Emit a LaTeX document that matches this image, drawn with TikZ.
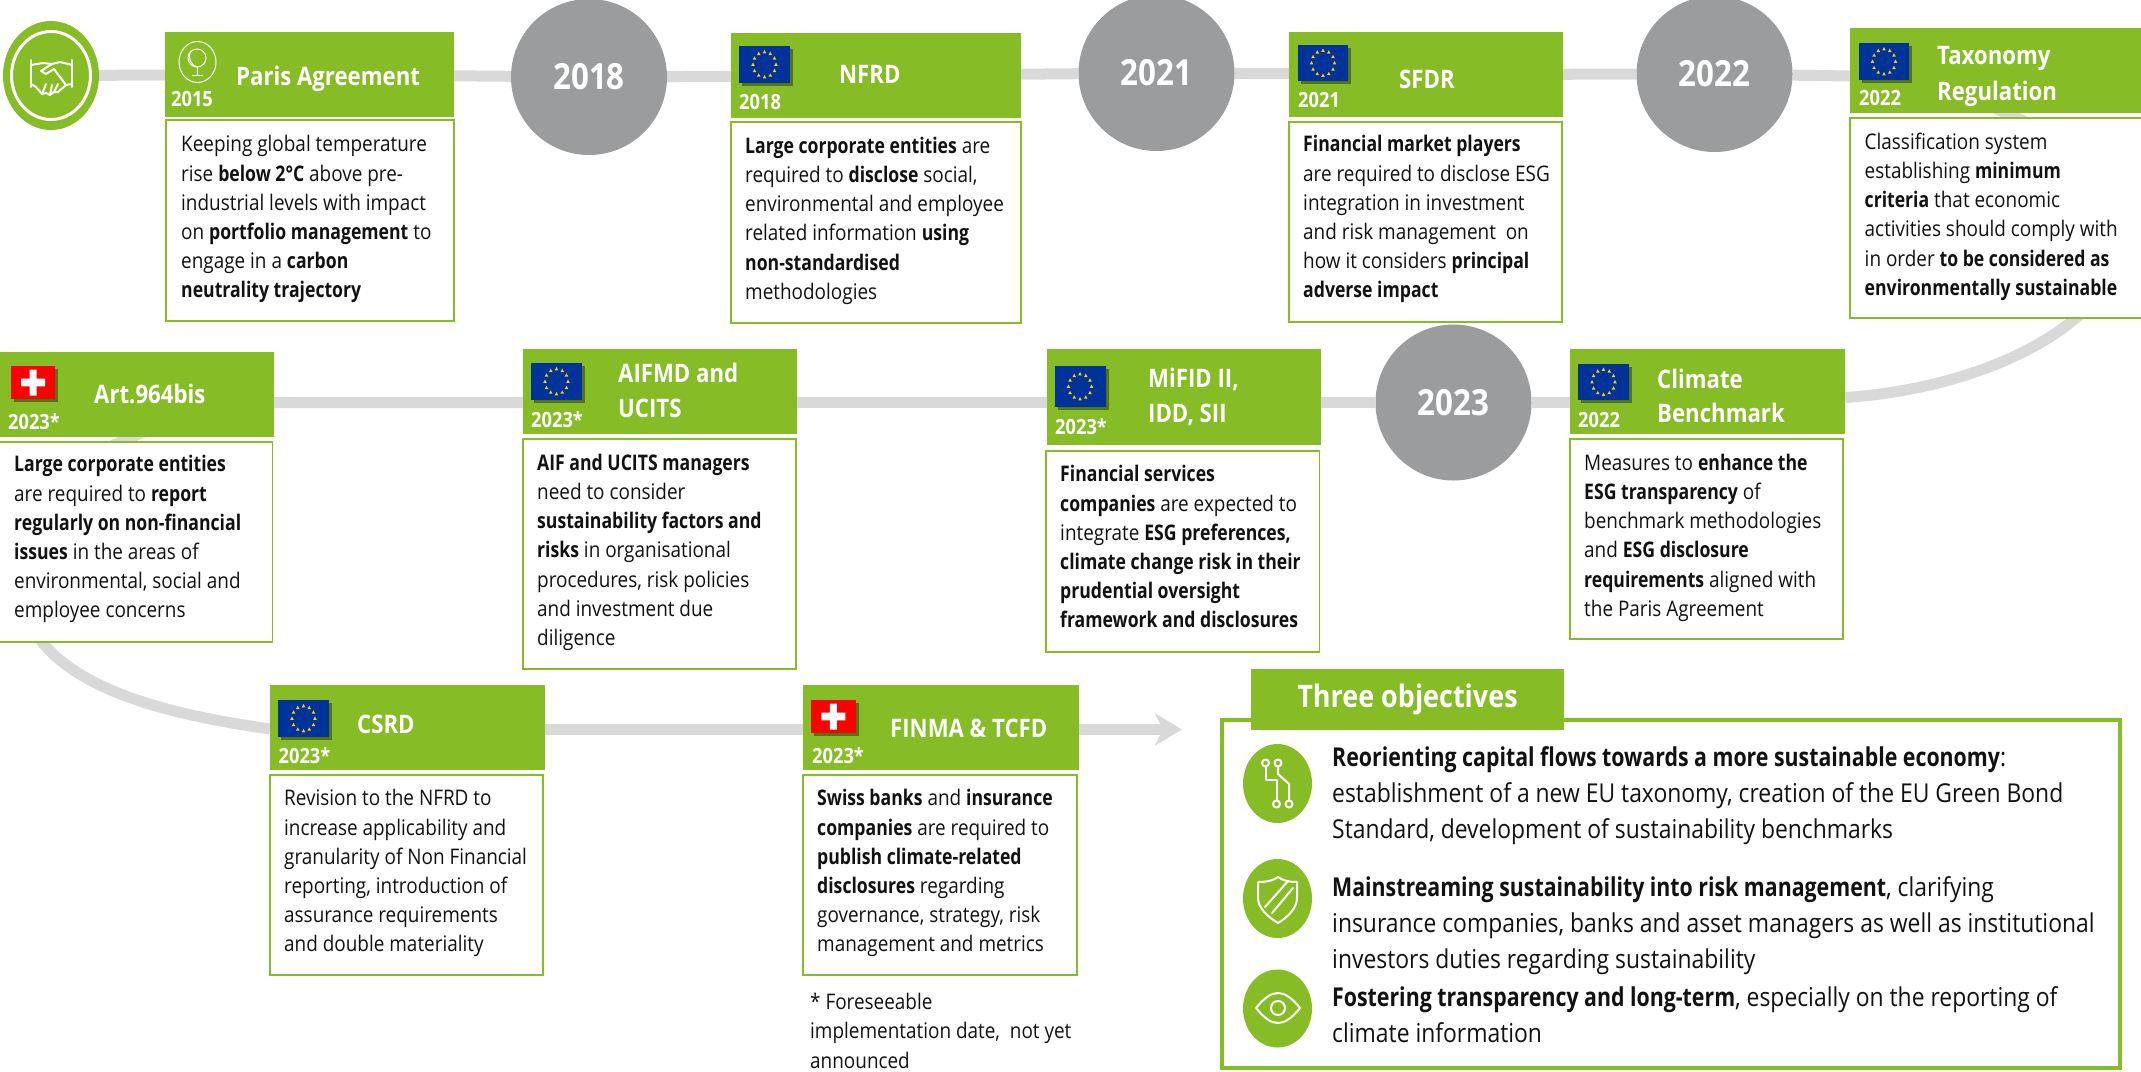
\documentclass[tikz,border=0pt]{standalone}
\usepackage{fontspec}
\setmainfont{Open Sans}[FakeStretch=0.88,BoldFeatures={FakeStretch=0.82}]
\newfontfamily\digitsf{Open Sans}[FakeStretch=0.87]
\usetikzlibrary{backgrounds,arrows.meta}
\definecolor{dgreen}{HTML}{86BC25}
\definecolor{lgrey}{HTML}{D9D9D9}
\definecolor{cgrey}{HTML}{9B9C9E}
\definecolor{eublue}{HTML}{003399}
\definecolor{eustar}{HTML}{FFCC00}
\definecolor{txt}{HTML}{111111}
\tikzset{
  x=1pt,y=-1pt,
  headbox/.style={fill=dgreen,inner sep=0pt,outer sep=0pt,rectangle},
  bodybox/.style={draw=dgreen,line width=1.6pt,fill=white,inner sep=0pt,outer sep=0pt,rectangle},
  bodytxt/.style={anchor=north west,inner sep=0pt,align=left,text=txt,font=\fontsize{21.5}{29.2}\selectfont},
  yeartxt/.style={anchor=base west,inner sep=0pt,text=white,font=\digitsf\bfseries\fontsize{21}{25}\selectfont},
  titletxt/.style={anchor=base west,inner sep=0pt,text=white,font=\digitsf\bfseries\fontsize{25.5}{30}\selectfont},
  yearcirc/.style={circle,fill=cgrey,inner sep=0pt,minimum size=156pt,text=white,font=\digitsf\bfseries\fontsize{36}{40}\selectfont},
  objtxt/.style={anchor=north west,inner sep=0pt,align=left,text=txt,font=\fontsize{26}{35.6}\selectfont},
  objcirc/.style={ellipse,fill=dgreen},
  conn/.style={draw=lgrey,line width=11pt},
  icon/.style={draw=white,line width=2pt,line cap=round,line join=round},
}
\usetikzlibrary{shapes.geometric}
\newcommand\head[5]{\pgfmathsetmacro{\bw}{#4-#2}\pgfmathsetmacro{\bh}{#5-#3}%
  \node[headbox,minimum width=\bw pt,minimum height=\bh pt] (#1) at ({(#2+#4)/2},{(#3+#5)/2}) {};}
\newcommand\bodyb[5]{\pgfmathsetmacro{\bw}{#4-#2}\pgfmathsetmacro{\bh}{#5-#3}%
  \node[bodybox,minimum width=\bw pt,minimum height=\bh pt] (#1) at ({(#2+#4)/2},{(#3+#5)/2}) {};}
\newcommand\bodyt[4]{\node[bodytxt] (#1) at (#2,{#3-20}) {\rule{0pt}{20pt}#4};}
\newcommand\yr[4]{\node[yeartxt] (#1) at (#2,#3) {#4};}
\newcommand\ttl[4]{\node[titletxt] (#1) at (#2,#3) {#4};}
\newcommand\euflag[4]{%
  \fill[black!70!dgreen,opacity=.55] ({#1+3},{#2+3}) rectangle ({#3+3},{#4+3});
  \fill[eublue] (#1,#2) rectangle (#3,#4);
  \begin{scope}[shift={({(#1+#3)/2},{(#2+#4)/2})}]
    \foreach \a in {0,30,...,330}{\fill[eustar] (\a:11.5 and 12.5) ++(0,-2) -- ++(1.8,3.4) -- ++(-3.6,0) -- cycle;}
  \end{scope}}
\newcommand\chflag[4]{%
  \fill[black!70!dgreen,opacity=.55] ({#1+3},{#2+3}) rectangle ({#3+3},{#4+3});
  \fill[red] (#1,#2) rectangle (#3,#4);
  \begin{scope}[shift={({(#1+#3)/2},{(#2+#4)/2})}]
    \fill[white] (-3.5,-13) rectangle (3.5,13) (-12,-3.8) rectangle (12,3.8);
  \end{scope}}
\begin{document}
\begin{tikzpicture}
\clip (0,0) rectangle (2141,1071);
% start
\node[ellipse,fill=dgreen,minimum width=96pt,minimum height=109pt,inner sep=0pt] (hand) at (51,75.5) {};
\draw[white,line width=3pt] (51,75.5) ellipse [x radius=39.5,y radius=44];
\begin{scope}[icon]
 \draw (31,60) -- (31,87) (72,60) -- (72,87);
 \draw (31,65) -- (43,63) -- (52,64) -- (60,62) -- (72,65);
 \draw (31,84) -- (36,87) -- (42,94) -- (46,93) -- (50,95) -- (54,92) -- (58,92) -- (66,85) -- (72,84);
 \draw (52,64) -- (41,71) -- (46,74) -- (54,69) -- (66,85);
 \draw (46,84) -- (42,94) (52,85) -- (50,95) (58,84) -- (54,92);
\end{scope}
% year circles
\node[yearcirc] (c2018) at (589,77) {2018};
\node[yearcirc] (c2021) at (1156.5,73) {2021};
\node[yearcirc] (c2022) at (1714.5,74) {2022};
\node[yearcirc] (c2023) at (1453.5,402.5) {2023};
% top row
\head{hParis}{165}{32}{454}{117}
\bodyb{bParis}{166}{120}{454}{321}
\draw[white,line width=1pt] (197.5,62) ellipse [x radius=18.5,y radius=20.5];
\begin{scope}[draw=white,line width=1pt]
 \draw (197,58) circle [radius=9];
 \draw (191,51) .. controls (187,58) and (191,66) .. (198,67);
 \draw (197,67) -- (197,75) (192,75) -- (203,75);
\end{scope}
\yr{yParis}{171}{106.5}{2015}
\ttl{tParis}{236}{85}{Paris Agreement}
\bodyt{xParis}{181}{151.7}{Keeping global temperature\\rise \textbf{below 2°C} above pre-\\industrial levels with impact\\on \textbf{portfolio management} to\\engage in a \textbf{carbon}\\\textbf{neutrality trajectory}}

\head{hNFRD}{731}{33}{1021}{118}
\bodyb{bNFRD}{731}{122}{1021}{323}
\euflag{739}{46}{790}{83}
\yr{yNFRD}{739}{109}{2018}
\ttl{tNFRD}{839}{83}{NFRD}
\bodyt{xNFRD}{745}{153}{\textbf{Large corporate entities} are\\required to \textbf{disclose} social,\\environmental and employee\\related information \textbf{using}\\\textbf{non-standardised}\\methodologies}

\head{hSFDR}{1289}{32}{1563}{117}
\bodyb{bSFDR}{1289}{122}{1562}{322}
\euflag{1298}{45}{1348}{81}
\yr{ySFDR}{1298}{107.7}{2021}
\ttl{tSFDR}{1399}{88}{SFDR}
\bodyt{xSFDR}{1303}{151.7}{\textbf{Financial market players}\\are required to disclose ESG\\integration in investment\\and risk management~ on\\how it considers \textbf{principal}\\\textbf{adverse impact}}

\head{hTax}{1850}{28}{2141}{113}
\bodyb{bTax}{1850}{118}{2142}{318}
\euflag{1859}{43}{1909}{80}
\yr{yTax}{1859}{105.7}{2022}
\ttl{tTaxA}{1937}{64}{Taxonomy}
\ttl{tTaxB}{1937}{100}{Regulation}
\bodyt{xTax}{1864.5}{149}{Classification system\\establishing \textbf{minimum}\\\textbf{criteria} that economic\\activities should comply with\\in order \textbf{to be considered as}\\\textbf{environmentally sustainable}}

% middle row
\head{hArt}{0}{352}{274}{437}
\bodyb{bArt}{-1}{442}{272.5}{642}
\chflag{11}{366}{55}{399}
\yr{yArt}{8}{429}{2023*}
\ttl{tArt}{94}{403}{Art.964bis}
\bodyt{xArt}{14}{471.7}{\textbf{Large corporate entities}\\are required to \textbf{report}\\\textbf{regularly on non-financial}\\\textbf{issues} in the areas of\\environmental, social and\\employee concerns}

\head{hAIF}{523}{349}{797}{434}
\bodyb{bAIF}{523}{439}{796}{669}
\euflag{531}{363}{582}{400}
\yr{yAIF}{531}{427}{2023*}
\ttl{tAIFA}{618}{382}{AIFMD and}
\ttl{tAIFB}{618}{417}{UCITS}
\bodyt{xAIF}{537}{470}{\textbf{AIF and UCITS managers}\\need to consider\\\textbf{sustainability factors and}\\\textbf{risks} in organisational\\procedures, risk policies\\and investment due\\diligence}

\head{hMiFID}{1047}{349}{1321}{445}
\bodyb{bMiFID}{1046}{451}{1319.5}{652}
\euflag{1054.5}{366}{1105.5}{407}
\yr{yMiFID}{1055}{434}{2023*}
\ttl{tMiFIDA}{1148}{387}{MiFID II,}
\ttl{tMiFIDB}{1148}{422}{IDD, SII}
\bodyt{xMiFID}{1060}{481.7}{\textbf{Financial services}\\\textbf{companies} are expected to\\integrate \textbf{ESG preferences,}\\\textbf{climate change risk in their}\\\textbf{prudential oversight}\\\textbf{framework and disclosures}}

\head{hClimate}{1570}{349}{1845}{434}
\bodyb{bClimate}{1570}{439}{1843}{639}
\euflag{1578}{364}{1629}{400}
\yr{yClimate}{1578}{427}{2022}
\ttl{tClimateA}{1657}{388}{Climate}
\ttl{tClimateB}{1657}{422}{Benchmark}
\bodyt{xClimate}{1584}{470}{Measures to \textbf{enhance the}\\\textbf{ESG transparency} of\\benchmark methodologies\\and \textbf{ESG disclosure}\\\textbf{requirements} aligned with\\the Paris Agreement}

% bottom row
\head{hCSRD}{270}{685}{545}{770}
\bodyb{bCSRD}{270}{775}{543}{975}
\euflag{278}{700}{329}{737}
\yr{yCSRD}{278.5}{763}{2023*}
\ttl{tCSRD}{357}{733}{CSRD}
\bodyt{xCSRD}{284}{805.7}{Revision to the NFRD to\\increase applicability and\\granularity of Non Financial\\reporting, introduction of\\assurance requirements\\and double materiality}

\head{hFINMA}{803}{685}{1078.5}{770}
\bodyb{bFINMA}{803}{775}{1077}{975}
\chflag{811}{700}{855.5}{733}
\yr{yFINMA}{812}{763}{2023*}
\ttl{tFINMA}{890}{737}{FINMA \& TCFD}
\bodyt{xFINMA}{817}{805.7}{\textbf{Swiss banks} and \textbf{insurance}\\\textbf{companies} are required to\\\textbf{publish climate-related}\\\textbf{disclosures} regarding\\governance, strategy, risk\\management and metrics}
\bodyt{xNote}{810}{1009.5}{* Foreseeable\\implementation date,~ not yet\\announced}

% objectives
\node[draw=dgreen,line width=4pt,inner sep=0pt,minimum width=898pt,minimum height=348pt] (fObj) at (1671,894) {};
\node[headbox,minimum width=313pt,minimum height=61pt,text=white,font=\digitsf\bfseries\fontsize{31}{34}\selectfont] (tabObj) at (1407.5,699.5) {\raisebox{-3pt}{Three objectives}};
\node[objcirc,minimum width=69pt,minimum height=79pt,inner sep=0pt] (o1) at (1277.5,783.5) {};
\node[objcirc,minimum width=69pt,minimum height=79pt,inner sep=0pt] (o2) at (1277.5,898.5) {};
\node[objcirc,minimum width=69pt,minimum height=78pt,inner sep=0pt] (o3) at (1277.5,1008.5) {};
\begin{scope}[icon]
 \draw (1265.5,763) circle [radius=3.5] (1278,763) circle [radius=3.5] (1276.5,804) circle [radius=3.5] (1289,804) circle [radius=3.5];
 \draw (1265.5,767) -- (1265.5,780) -- (1276.5,780) -- (1276.5,800);
 \draw (1278,767) -- (1278,774) -- (1289,784) -- (1289,800);
 \draw (1258,882) .. controls (1268,882) and (1274,880) .. (1278,877) .. controls (1282,880) and (1288,882) .. (1297,882) -- (1297,898) .. controls (1297,908) and (1288,917) .. (1278,923) .. controls (1268,917) and (1258,908) .. (1258,898) -- cycle;
 \draw (1265,907) -- (1288,881) (1272,913) -- (1293,888);
 \draw (1256,1008) .. controls (1264,998) and (1271,993) .. (1278,993) .. controls (1285,993) and (1292,998) .. (1300,1008) .. controls (1292,1018) and (1285,1023) .. (1278,1023) .. controls (1271,1023) and (1264,1018) .. (1256,1008) -- cycle;
 \draw (1278,1008) circle [radius=7];
\end{scope}
\node[objtxt] (oa) at (1332,{766.7-24}) {\rule{0pt}{24pt}\textbf{Reorienting capital flows towards a more sustainable economy}:\\establishment of a new EU taxonomy, creation of the EU Green Bond\\Standard, development of sustainability benchmarks};
\node[objtxt] (ob) at (1332,{896.7-24}) {\rule{0pt}{24pt}\textbf{Mainstreaming sustainability into risk management}, clarifying\\insurance companies, banks and asset managers as well as institutional\\investors duties regarding sustainability};
\node[objtxt] (oc) at (1332,{1006.7-24}) {\rule{0pt}{24pt}\textbf{Fostering transparency and long-term}, especially on the reporting of\\climate information};

% connectors
\coordinate (tr1) at (1850,76);
\coordinate (tr2) at (2013,116);
\coordinate (tr3) at (2076,318);
\coordinate (lf1) at (125,440);
\coordinate (lf2) at (42,642);
\coordinate (arrowEnd) at (1182,729.5);
\begin{scope}[on background layer]
 \draw[conn] (hand) -- (hParis);
 \draw[conn] (hParis) -- (c2018);
 \draw[conn] (c2018) -- (hNFRD);
 \draw[conn] (hNFRD) -- (c2021);
 \draw[conn] (c2021) -- (hSFDR);
 \draw[conn] (hSFDR) -- (c2022);
 \draw[conn] (c2022) -- (tr1) .. controls (1930,79) and (1975,100) .. (tr2) .. controls (2130,170) and (2145,260) .. (tr3) .. controls (2020,365) and (1930,392) .. ([yshift=-6pt]hClimate.east);
 \draw[conn] (c2023 -| hClimate.west) -- (c2023);
 \draw[conn] (c2023) -- (c2023 -| hMiFID.east);
 \draw[conn] (c2023 -| hMiFID.west) -- (c2023 -| hAIF.east);
 \draw[conn] (c2023 -| hAIF.west) -- (c2023 -| hArt.east) .. controls (210,402) and (170,420) .. (lf1) .. controls (40,475) and (-5,570) .. (lf2) .. controls (85,695) and (180,716) .. ([yshift=-1.5pt]hCSRD.west);
 \draw[conn] ([yshift=-2pt]hCSRD.east) -- ([yshift=-2pt]hFINMA.west);
 \draw[conn,-{Stealth[length=27pt,width=32pt,inset=8pt]}] ([yshift=-2pt]hFINMA.east) -- (arrowEnd);
\end{scope}
\end{tikzpicture}
\end{document}
